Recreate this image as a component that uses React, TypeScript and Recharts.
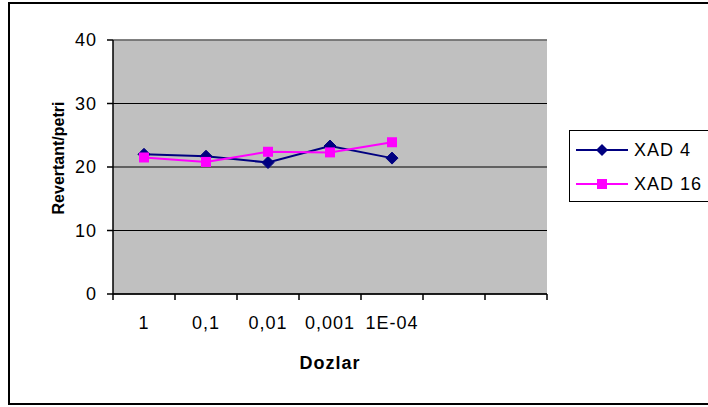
import React from "react";
import {
  ComposedChart,
  Line,
  XAxis,
  YAxis,
  CartesianGrid,
  ReferenceLine,
  Label,
} from "recharts";

const categories = ["1", "0,1", "0,01", "0,001", "1E-04", "", " "];
const xad4 = [22.0, 21.7, 20.7, 23.3, 21.4, null, null];
const xad16 = [21.5, 20.8, 22.4, 22.3, 23.9, null, null];
const yTicks = [0, 10, 20, 30, 40];
const seriesNames = ["XAD 4", "XAD 16"];

const data = categories.map((c, i) => ({ name: c, xad4: xad4[i], xad16: xad16[i] }));

const W = 708;
const H = 407;
const M = { top: 40, right: 161, bottom: 83, left: 53 };
const Y_AXIS_W = 60;
const X_AXIS_H = 30;
const PLOT_W = W - M.left - Y_AXIS_W - M.right;
const BW = PLOT_W / categories.length;
const FONT = "Arial, 'Liberation Sans', sans-serif";
const LS = 1;
const NAVY = "#000080";
const MAGENTA = "#ff00ff";

const Diamond = (props: any) => {
  const { cx, cy } = props;
  if (cx == null || cy == null || props.value == null) return null;
  const r = 6;
  return (
    <path
      d={`M${cx},${cy - r}L${cx + r},${cy}L${cx},${cy + r}L${cx - r},${cy}Z`}
      fill={NAVY}
      stroke={NAVY}
    />
  );
};

const Square = (props: any) => {
  const { cx, cy } = props;
  if (cx == null || cy == null || props.value == null) return null;
  const s = 5;
  return <rect x={cx - s} y={cy - s} width={2 * s} height={2 * s} fill={MAGENTA} />;
};

const XTick = (props: any) => {
  const { x, y, payload, index } = props;
  const last = index === categories.length - 1;
  return (
    <g>
      <line x1={x - BW / 2} x2={x - BW / 2} y1={y} y2={y + 6} stroke="#000" strokeWidth={1.5} />
      {last && <line x1={x + BW / 2} x2={x + BW / 2} y1={y} y2={y + 6} stroke="#000" strokeWidth={1.5} />}
      <text
        x={x}
        y={y + 29}
        textAnchor="middle"
        dominantBaseline="central"
        fontSize={18}
        letterSpacing={LS}
        fontFamily={FONT}
        fill="#000"
      >
        {payload.value}
      </text>
    </g>
  );
};

const LegendBox = () => (
  <div
    style={{
      position: "absolute",
      left: 569,
      top: 130,
      width: 150,
      height: 70,
      border: "1px solid #000",
      background: "#fff",
      fontFamily: FONT,
      fontSize: 18,
      letterSpacing: LS,
    }}
  >
    {seriesNames.map((n, i) => (
      <div
        key={n}
        style={{ position: "absolute", left: 6, top: i === 0 ? 7 : 41, height: 24, display: "flex", alignItems: "center" }}
      >
        <svg width={54} height={24}>
          <line x1={0} x2={52} y1={12} y2={12} stroke={i === 0 ? NAVY : MAGENTA} strokeWidth={2} />
          {i === 0 ? (
            <path d="M26,6L32,12L26,18L20,12Z" fill={NAVY} />
          ) : (
            <rect x={21} y={7} width={10} height={10} fill={MAGENTA} />
          )}
        </svg>
        <span style={{ marginLeft: 4, color: "#000" }}>{n}</span>
      </div>
    ))}
  </div>
);

export default function App() {
  return (
    <div style={{ position: "absolute", left: 0, top: 0, width: W, height: H, overflow: "hidden", background: "#fff" }}>
      <div
        style={{
          position: "absolute",
          left: 8,
          top: 2,
          width: 720,
          height: 399,
          border: "2px solid #000",
        }}
      />
      <div style={{ position: "absolute", left: 0, top: 0 }}>
        <ComposedChart width={W} height={H} data={data} margin={M}>
          <CartesianGrid vertical={false} fill="#c0c0c0" stroke="#000" strokeWidth={1.2} />
          <XAxis
            dataKey="name"
            scale="band"
            height={X_AXIS_H}
            tickLine={false}
            tickSize={0}
            tickMargin={0}
            axisLine={{ stroke: "#000", strokeWidth: 1.5 }}
            tick={<XTick />}
            interval={0}
          >
            <Label
              content={(p: any) => {
                const vb = p.viewBox;
                return (
                  <text
                    x={vb.x + vb.width / 2}
                    y={363}
                    textAnchor="middle"
                    dominantBaseline="central"
                    fontSize={18}
                    letterSpacing={LS}
                    fontWeight="bold"
                    fontFamily={FONT}
                    fill="#000"
                  >
                    Dozlar
                  </text>
                );
              }}
            />
          </XAxis>
          <YAxis
            width={Y_AXIS_W}
            domain={[0, 40]}
            ticks={yTicks}
            interval={0}
            tickSize={6}
            tickMargin={10}
            tickLine={{ stroke: "#000", strokeWidth: 1.5 }}
            axisLine={{ stroke: "#000", strokeWidth: 1.5 }}
            tick={{ fill: "#000", fontSize: 18, fontFamily: FONT, letterSpacing: LS }}
          >
            <Label
              content={() => (
                <text
                  x={58}
                  y={158}
                  transform={`rotate(-90 58 158)`}
                  textAnchor="middle"
                  dominantBaseline="central"
                  fontSize={16}
                  fontWeight="bold"
                  fontFamily={FONT}
                  fill="#000"
                >
                  Revertant/petri
                </text>
              )}
            />
          </YAxis>
          <YAxis
            yAxisId="r"
            orientation="right"
            width={0}
            domain={[0, 40]}
            tick={false}
            tickLine={false}
            axisLine={{ stroke: "#808080", strokeWidth: 1.5 }}
          />
          <ReferenceLine y={40} stroke="#808080" strokeWidth={1.5} />
          <Line
            dataKey="xad4"
            name={seriesNames[0]}
            stroke={NAVY}
            strokeWidth={2}
            dot={<Diamond />}
            activeDot={false}
            isAnimationActive={false}
            connectNulls={false}
          />
          <Line
            dataKey="xad16"
            name={seriesNames[1]}
            stroke={MAGENTA}
            strokeWidth={2}
            dot={<Square />}
            activeDot={false}
            isAnimationActive={false}
            connectNulls={false}
          />
        </ComposedChart>
      </div>
      <LegendBox />
    </div>
  );
}
